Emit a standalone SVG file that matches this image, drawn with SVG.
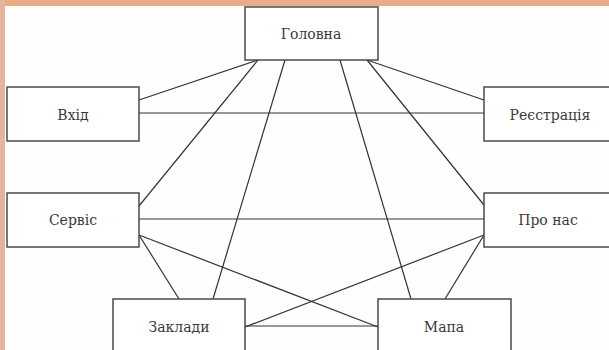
<svg xmlns="http://www.w3.org/2000/svg" width="609" height="350" viewBox="0 0 609 350">
<defs>
<style>
.box{fill:#ffffff;stroke:#4a4a4a;stroke-width:1.5}
.lbl{font-family:'DejaVu Serif','Liberation Serif',serif;font-size:14px;fill:#3a3a3a;text-anchor:middle}
.conn line{stroke:#333333;stroke-width:1.2}
</style>
</defs>
<rect x="0" y="0" width="609" height="350" fill="#fffefc"/>
<rect x="0" y="0" width="609" height="6" fill="#e9ac86"/>
<rect x="0" y="0" width="5" height="350" fill="#e5b49a"/>
<g id="connectors" class="conn">
<line x1="258" y1="60" x2="139" y2="100"/>
<line x1="139" y1="113" x2="484" y2="113"/>
<line x1="367" y1="60" x2="484" y2="100"/>
<line x1="258" y1="60" x2="139" y2="206"/>
<line x1="285" y1="60" x2="213" y2="299"/>
<line x1="340" y1="60" x2="411" y2="299"/>
<line x1="367" y1="60" x2="484" y2="205"/>
<line x1="139" y1="219" x2="484" y2="219"/>
<line x1="139" y1="235" x2="179" y2="299"/>
<line x1="139" y1="235" x2="378" y2="327"/>
<line x1="484" y1="235" x2="245" y2="327"/>
<line x1="484" y1="235" x2="445" y2="299"/>
<line x1="245" y1="326" x2="378" y2="326"/>
</g>
<g id="golovna"><rect class="box" x="245" y="7" width="133" height="53"/><text class="lbl" x="311" y="39">Головна</text></g>
<g id="vkhid"><rect class="box" x="7" y="87" width="132" height="54"/><text class="lbl" x="73" y="120">Вхід</text></g>
<g id="reiestratsiia"><rect class="box" x="484" y="87" width="133" height="54"/><text class="lbl" x="550" y="120">Реєстрація</text></g>
<g id="servis"><rect class="box" x="7" y="193" width="132" height="54"/><text class="lbl" x="73" y="225">Сервіс</text></g>
<g id="pro-nas"><rect class="box" x="484" y="193" width="133" height="54"/><text class="lbl" x="548" y="225">Про нас</text></g>
<g id="zaklady"><rect class="box" x="113" y="299" width="132" height="54"/><text class="lbl" x="179" y="332">Заклади</text></g>
<g id="mapa"><rect class="box" x="378" y="299" width="133" height="54"/><text class="lbl" x="444" y="332">Мапа</text></g>
</svg>
